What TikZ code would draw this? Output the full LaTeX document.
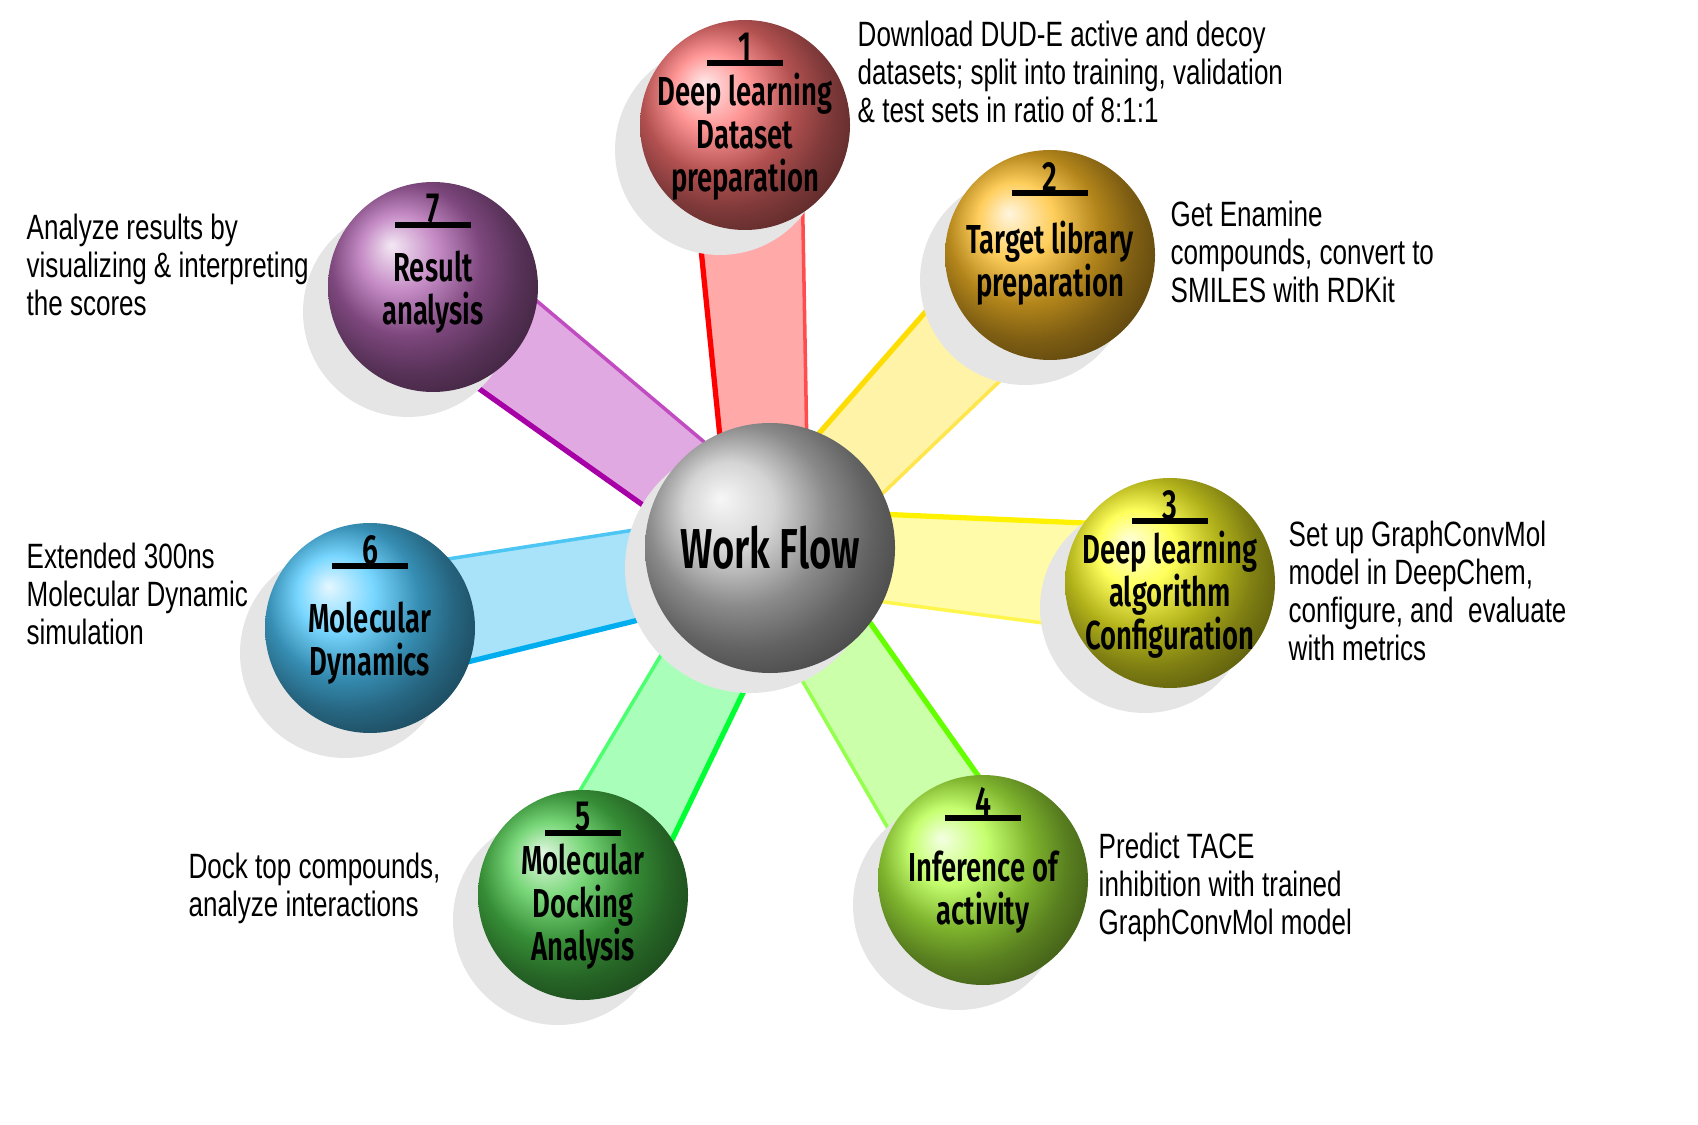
\documentclass[tikz,border=0pt]{standalone}
\usepackage{fontspec}
\setmainfont{Liberation Sans}[FakeStretch=0.74]
\newfontfamily\cond{Fira Sans}[FakeStretch=0.68,UprightFont=* SemiBold]
\usetikzlibrary{calc}
\begin{document}
\begin{tikzpicture}[x=0.01cm,y=-0.01cm,
  lbl/.style={inner sep=0pt,align=center,font=\cond\fontsize{11.5}{12.2}\selectfont},
  desc/.style={anchor=north west,align=left,inner sep=0pt,font=\fontsize{10}{10.8}\selectfont},
  num/.style={font=\cond\fontsize{12}{12}\selectfont}]
\useasboundingbox (0,0) rectangle (1698,1125);
\coordinate (c) at (770,548);
\coordinate (p1) at (745,125);
\coordinate (p2) at (1050,255);
\coordinate (p3) at (1170,583);
\coordinate (p4) at (983,880);
\coordinate (p5) at (583,895);
\coordinate (p6) at (370,628);
\coordinate (p7) at (433,287);
\newcommand{\myspoke}[2]{%
 \fill[#2!45,opacity=.75] ($(c)!11pt!90:(#1)$) -- ($(#1)!16pt!-90:(c)$) -- ($(#1)!16pt!90:(c)$) -- ($(c)!11pt!-90:(#1)$) -- cycle;
 \draw[#2,line width=1.5pt] ($(c)!11pt!90:(#1)$) -- ($(#1)!16pt!-90:(c)$);
 \draw[#2!70,line width=1pt] ($(c)!11pt!-90:(#1)$) -- ($(#1)!16pt!90:(c)$);}
\myspoke{p1}{red}
\myspoke{p2}{yellow!80!orange}
\myspoke{p3}{yellow}
\myspoke{p4}{green!60!yellow}
\myspoke{p5}{green!80!cyan}
\myspoke{p6}{cyan}
\myspoke{p7}{violet!70!magenta}
\foreach \p in {p1,p2,p3,p4,p5,p6,p7}{\fill[black!10] ($(\p)+(-25,25)$) circle (105);}
\fill[black!10] ($(c)+(-20,20)$) circle (125);
\shade[ball color=gray!45] (c) circle (125);
\shade[ball color=red!55!white] (p1) circle (105);
\shade[ball color=orange!60!yellow!85] (p2) circle (105);
\shade[ball color=yellow!85!white] (p3) circle (105);
\shade[ball color=green!40!yellow!75] (p4) circle (105);
\shade[ball color=green!70!black!70] (p5) circle (105);
\shade[ball color=cyan!70!blue!70] (p6) circle (105);
\shade[ball color=violet!60] (p7) circle (105);
\node[lbl,font=\cond\fontsize{16}{16}\selectfont] (wf) at (c) {Work Flow};
\node[lbl] (n1) at ($(p1)+(0,12)$) {Deep learning\\Dataset\\preparation};
\node[lbl] (n2) at ($(p2)+(0,8)$) {Target library\\preparation};
\node[lbl] (n3) at ($(p3)+(0,12)$) {Deep learning\\algorithm\\Configuration};
\node[lbl] (n4) at ($(p4)+(0,12)$) {Inference of\\activity};
\node[lbl] (n5) at ($(p5)+(0,12)$) {Molecular\\Docking\\Analysis};
\node[lbl] (n6) at ($(p6)+(0,15)$) {Molecular\\Dynamics};
\node[lbl] (n7) at ($(p7)+(0,5)$) {Result\\analysis};
\foreach \p/\k in {p1/1,p2/2,p3/3,p4/4,p5/5,p6/6,p7/7}{
  \node[num] (k\k) at ($(\p)+(0,-78)$) {\k};
  \draw[line width=1.5pt] ($(\p)+(-38,-62)$) -- ($(\p)+(38,-62)$);}
\node[desc] (d1) at (857,20) {Download DUD-E active and decoy\\datasets; split into training, validation\\\& test sets in ratio of 8:1:1};
\node[desc] (d2) at (1170,200) {Get Enamine\\compounds, convert to\\SMILES with RDKit};
\node[desc] (d3) at (1288,520) {Set up GraphConvMol\\model in DeepChem,\\configure, and\ \ evaluate\\with metrics};
\node[desc] (d4) at (1098,832) {Predict TACE\\inhibition with trained\\GraphConvMol model};
\node[desc] (d5) at (188,852) {Dock top compounds,\\analyze interactions};
\node[desc] (d6) at (26,542) {Extended 300ns\\Molecular Dynamic\\simulation};
\node[desc] (d7) at (26,213) {Analyze results by\\visualizing \& interpreting\\the scores};
\end{tikzpicture}
\end{document}
